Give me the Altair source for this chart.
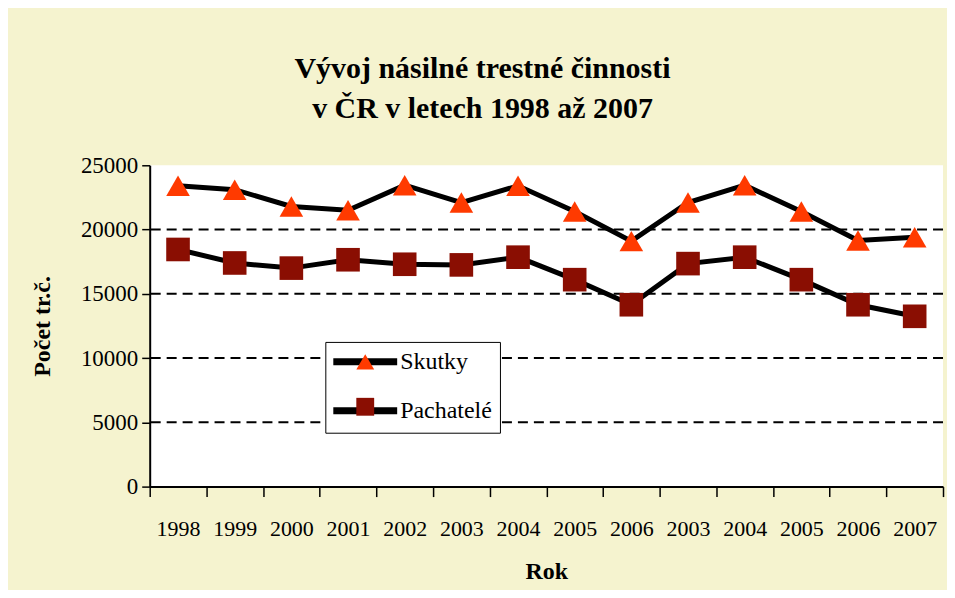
import altair as alt
import pandas as pd

# --- data ---
roky = ["1998", "1999", "2000", "2001", "2002", "2003", "2004",
        "2005", "2006", "2003", "2004", "2005", "2006", "2007"]
skutky = [23400, 23100, 21800, 21500, 23450, 22100, 23400,
          21400, 19100, 22100, 23450, 21400, 19150, 19400]
pachatele = [18450, 17400, 17000, 17650, 17300, 17250, 17850,
             16100, 14150, 17350, 17850, 16100, 14150, 13250]
serie = ["Skutky", "Pachatelé"]
znacky = [s + " (značka)" for s in serie]   # separate domain for the marker legend
y_ticks = [0, 5000, 10000, 15000, 20000, 25000]
grid_values = [5000, 10000, 15000, 20000]

rows = []
for i, r in enumerate(roky):
    rows.append({"pos": i, "rok": r, "serie": serie[0], "rada": znacky[0], "hodnota": skutky[i]})
    rows.append({"pos": i, "rok": r, "serie": serie[1], "rada": znacky[1], "hodnota": pachatele[i]})
df = pd.DataFrame(rows)
grid_df = pd.DataFrame({"hodnota": grid_values})

FONT = "Liberation Serif"
label_expr = "[" + ",".join("'" + r + "'" for r in roky) + "][datum.value]"

yscale = alt.Scale(domain=[0, 25000], nice=False, zero=True)
yaxis = alt.Axis(values=y_ticks, format="d", title="Počet tr.č.", titleFont=FONT,
                 titleFontSize=24, titleFontWeight="bold", titleColor="black",
                 titlePadding=26, labelFont=FONT, labelFontSize=23,
                 labelColor="black", labelPadding=4, tickSize=8,
                 tickColor="black", tickWidth=1.5, domainColor="black",
                 domainWidth=2, grid=False)
xaxis = alt.Axis(title="Rok", titleFont=FONT, titleFontSize=24,
                 titleFontWeight="bold", titleColor="black", titlePadding=20,
                 labelFont=FONT, labelFontSize=22, labelColor="black",
                 labelAngle=0, labelPadding=22, labelExpr=label_expr,
                 tickBand="extent", tickSize=10, tickColor="black",
                 tickWidth=1.5, domainColor="black", domainWidth=2, grid=False)
xscale = alt.Scale(type="band", paddingInner=0, paddingOuter=0)

X = alt.X("pos:O", scale=xscale, axis=xaxis, sort=None)
Y = alt.Y("hodnota:Q", scale=yscale, axis=yaxis)

grid = alt.Chart(grid_df).mark_rule(
    color="black", strokeWidth=2, strokeDash=[10, 6]
).encode(y=Y)

base = alt.Chart(df)

line_legend = alt.Legend(
    title=None, orient="none", legendX=176, legendY=177,
    fillColor="white", strokeColor="black", padding=8, rowPadding=21,
    symbolType="M-4,0L4,0", symbolSize=256, symbolStrokeWidth=7,
    symbolOffset=20, labelOffset=23, labelFont=FONT, labelFontSize=24,
    labelColor="black", zindex=0)

point_legend = alt.Legend(
    title=None, orient="none", legendX=176, legendY=177,
    padding=8, rowPadding=21, symbolSize=320, symbolStrokeWidth=0,
    symbolOffset=20, labelOffset=23, labelFont=FONT, labelFontSize=24,
    labelExpr="''", zindex=1)

lines = base.mark_line(strokeWidth=5).encode(
    x=X, y=Y,
    color=alt.Color("serie:N",
                    scale=alt.Scale(domain=serie, range=["black", "black"]),
                    legend=line_legend),
)

points = base.mark_point(filled=True, size=560, opacity=1, strokeWidth=0).encode(
    x=X, y=Y,
    fill=alt.Fill("rada:N",
                  scale=alt.Scale(domain=znacky, range=["#ff3a00", "#8a0e02"]),
                  legend=point_legend),
    shape=alt.Shape("rada:N",
                    scale=alt.Scale(domain=znacky, range=["triangle-up", "square"]),
                    legend=point_legend),
)

chart = alt.layer(grid, lines, points).properties(
    width=795, height=322,
    padding={"left": 22, "top": 46, "right": 3, "bottom": 6},
    background="#f5f3cf",
    title=alt.TitleParams(
        text=["Vývoj násilné trestné činnosti", "v ČR v letech 1998 až 2007"],
        font=FONT, fontSize=30, fontWeight="bold", color="black",
        anchor="middle", offset=30, lineHeight=40, dx=-64),
).configure_view(stroke=None, fill="white")

chart.save("out.html", embed_options={"renderer": "svg", "actions": False})
